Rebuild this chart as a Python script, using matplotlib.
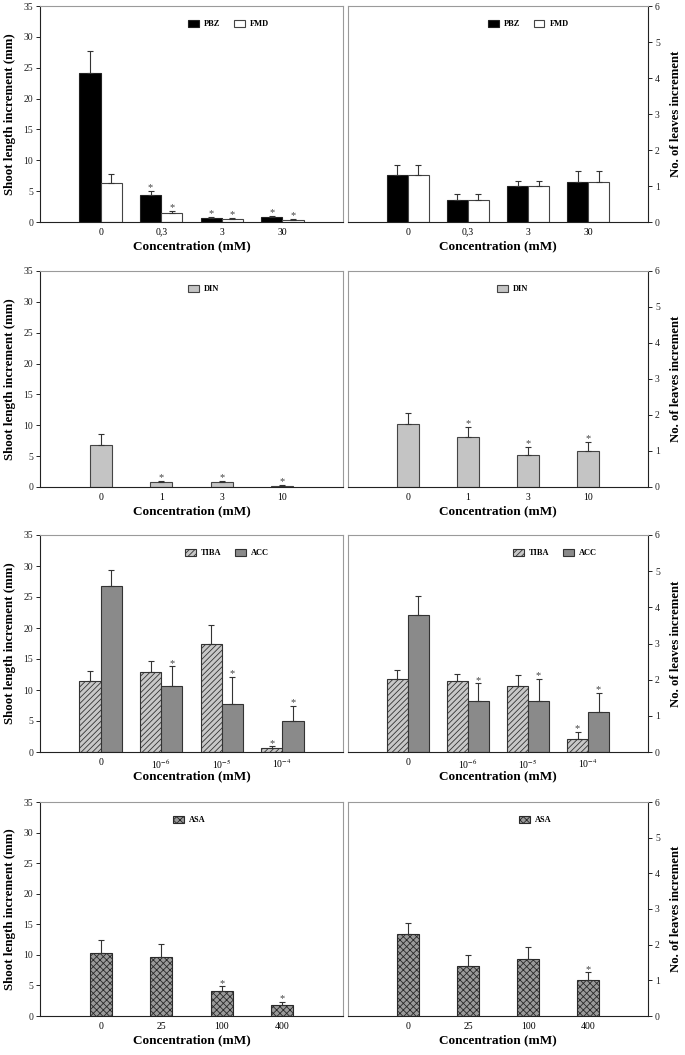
import numpy as np
import matplotlib
matplotlib.use("Agg")
import matplotlib.pyplot as plt
from matplotlib.patches import Patch

plt.rcParams['font.family'] = ['Liberation Serif', 'DejaVu Serif']
plt.rcParams['mathtext.fontset'] = 'stix'
plt.rcParams['hatch.linewidth'] = 0.6

# ---- data ----
conc_pbz = ["0", "0,3", "3", "30"]
pbz_shoot = [24.2, 4.3, 0.65, 0.8]
pbz_shoot_err = [3.5, 0.7, 0.2, 0.2]
pbz_shoot_sig = [0, 1, 1, 1]
fmd_shoot = [6.4, 1.45, 0.5, 0.38]
fmd_shoot_err = [1.35, 0.3, 0.2, 0.12]
fmd_shoot_sig = [0, 1, 1, 1]
pbz_leaves = [1.3, 0.6, 1.0, 1.1]
pbz_leaves_err = [0.28, 0.18, 0.14, 0.32]
fmd_leaves = [1.3, 0.6, 1.0, 1.1]
fmd_leaves_err = [0.28, 0.18, 0.14, 0.32]
no_sig = [0, 0, 0, 0]

conc_din = ["0", "1", "3", "10"]
din_shoot = [6.8, 0.8, 0.75, 0.15]
din_shoot_err = [1.75, 0.25, 0.3, 0.15]
din_shoot_sig = [0, 1, 1, 1]
din_leaves = [1.75, 1.4, 0.9, 1.0]
din_leaves_err = [0.3, 0.28, 0.22, 0.26]
din_leaves_sig = [0, 1, 1, 1]

conc_aux = ["0", "10$^{-6}$", "10$^{-5}$", "10$^{-4}$"]
tiba_shoot = [11.4, 12.9, 17.4, 0.7]
tiba_shoot_err = [1.7, 1.7, 3.1, 0.2]
tiba_shoot_sig = [0, 0, 0, 1]
acc_shoot = [26.8, 10.6, 7.75, 5.0]
acc_shoot_err = [2.5, 3.2, 4.35, 2.5]
acc_shoot_sig = [0, 1, 1, 1]
tiba_leaves = [2.03, 1.95, 1.82, 0.35]
tiba_leaves_err = [0.25, 0.22, 0.3, 0.2]
tiba_leaves_sig = [0, 0, 0, 1]
acc_leaves = [3.8, 1.4, 1.4, 1.1]
acc_leaves_err = [0.5, 0.5, 0.62, 0.53]
acc_leaves_sig = [0, 1, 1, 1]

conc_asa = ["0", "25", "100", "400"]
asa_shoot = [10.3, 9.7, 4.15, 1.8]
asa_shoot_err = [2.2, 2.0, 0.7, 0.5]
asa_shoot_sig = [0, 0, 1, 1]
asa_leaves = [2.3, 1.4, 1.6, 1.0]
asa_leaves_err = [0.3, 0.3, 0.33, 0.22]
asa_leaves_sig = [0, 0, 0, 1]

# ---- styles ----
STY = {
    "PBZ": dict(color="black", edgecolor="#222222"),
    "FMD": dict(color="white", edgecolor="#444444"),
    "DIN": dict(color="#c4c4c4", edgecolor="#444444"),
    "TIBA": dict(color="#c8c8c8", edgecolor="#333333", hatch="//////"),
    "ACC": dict(color="#8a8a8a", edgecolor="#333333"),
    "ASA": dict(color="#9a9a9a", edgecolor="#2a2a2a", hatch="xxxxx"),
}

W, H = 685, 1055
fig = plt.figure(figsize=(W / 100, H / 100), dpi=100)

def px_axes(l, r, t, b):
    return fig.add_axes([l / W, 1 - b / H, (r - l) / W, (b - t) / H])

def panel(ax, cats, series, side, leg_x):
    x = np.arange(len(cats))
    n = len(series)
    w = 0.35 if n == 2 else 0.36
    handles = []
    for i, (name, vals, errs, sig) in enumerate(series):
        off = (i - (n - 1) / 2) * w
        st = STY[name]
        ax.bar(x + off, vals, w, yerr=[np.zeros(len(errs)), errs],
               color=st["color"], edgecolor=st["edgecolor"], hatch=st.get("hatch"),
               linewidth=0.8, capsize=2.2,
               error_kw=dict(elinewidth=0.8, capthick=0.8, ecolor="#333333"), zorder=2)
        for xi, v, e, s in zip(x + off, vals, errs, sig):
            if s:
                ax.annotate("*", (xi, v + e), xytext=(0, -1), textcoords="offset points",
                            ha="center", va="bottom", fontsize=7.5, color="#444444")
        handles.append(Patch(facecolor=st["color"], edgecolor=st["edgecolor"],
                             hatch=st.get("hatch"), linewidth=0.8, label=name))
    ax.legend(handles=handles, loc="upper left", bbox_to_anchor=(leg_x, 0.935),
              ncol=n, frameon=False, borderpad=0, borderaxespad=0,
              handlelength=1.3, handleheight=0.9, handletextpad=0.6, columnspacing=1.6,
              prop=dict(family="Liberation Serif", weight="bold", size=6))
    ax.set_xlim(-1, len(cats))
    ax.set_xticks(x)
    ax.set_xticklabels(cats)
    ax.tick_params(axis="x", length=0, labelsize=7, pad=4)
    ax.set_xlabel("Concentration (mM)", fontsize=9.5, fontweight="bold")
    ax.xaxis.set_label_coords(0.5, -0.085)
    if side == "left":
        ax.set_ylim(0, 35)
        ax.set_yticks(np.arange(0, 36, 5))
        ax.set_ylabel("Shoot length increment (mm)", fontsize=9.3, fontweight="bold")
        ax.yaxis.set_label_coords(-0.08, 0.5)
        for s in ("top", "right"):
            ax.spines[s].set_color("#9a9a9a")
        strong = ("left", "bottom")
    else:
        ax.set_ylim(0, 6)
        ax.set_yticks(np.arange(0, 7, 1))
        ax.yaxis.tick_right()
        ax.yaxis.set_label_position("right")
        ax.set_ylabel("No. of leaves increment", fontsize=9.2, fontweight="bold")
        ax.yaxis.set_label_coords(1.074, 0.5)
        for s in ("top", "left"):
            ax.spines[s].set_color("#9a9a9a")
        strong = ("right", "bottom")
    for s in ax.spines:
        ax.spines[s].set_linewidth(0.8)
    for s in strong:
        ax.spines[s].set_color("#222222")
    ax.tick_params(axis="y", labelsize=7, length=3, width=0.7, pad=2, colors="#222222")

rows = [(6, 222), (271, 487), (535, 752), (802, 1016)]
L = (40, 343)
R = (348, 648)

ax = px_axes(L[0], L[1], *rows[0])
panel(ax, conc_pbz, [("PBZ", pbz_shoot, pbz_shoot_err, pbz_shoot_sig),
                     ("FMD", fmd_shoot, fmd_shoot_err, fmd_shoot_sig)], "left", 0.49)
ax = px_axes(R[0], R[1], *rows[0])
panel(ax, conc_pbz, [("PBZ", pbz_leaves, pbz_leaves_err, no_sig),
                     ("FMD", fmd_leaves, fmd_leaves_err, no_sig)], "right", 0.467)

ax = px_axes(L[0], L[1], *rows[1])
panel(ax, conc_din, [("DIN", din_shoot, din_shoot_err, din_shoot_sig)], "left", 0.49)
ax = px_axes(R[0], R[1], *rows[1])
panel(ax, conc_din, [("DIN", din_leaves, din_leaves_err, din_leaves_sig)], "right", 0.497)

ax = px_axes(L[0], L[1], *rows[2])
panel(ax, conc_aux, [("TIBA", tiba_shoot, tiba_shoot_err, tiba_shoot_sig),
                     ("ACC", acc_shoot, acc_shoot_err, acc_shoot_sig)], "left", 0.48)
ax = px_axes(R[0], R[1], *rows[2])
panel(ax, conc_aux, [("TIBA", tiba_leaves, tiba_leaves_err, tiba_leaves_sig),
                     ("ACC", acc_leaves, acc_leaves_err, acc_leaves_sig)], "right", 0.55)

ax = px_axes(L[0], L[1], *rows[3])
panel(ax, conc_asa, [("ASA", asa_shoot, asa_shoot_err, asa_shoot_sig)], "left", 0.44)
ax = px_axes(R[0], R[1], *rows[3])
panel(ax, conc_asa, [("ASA", asa_leaves, asa_leaves_err, asa_leaves_sig)], "right", 0.57)

fig.savefig("out.png", dpi=100)
